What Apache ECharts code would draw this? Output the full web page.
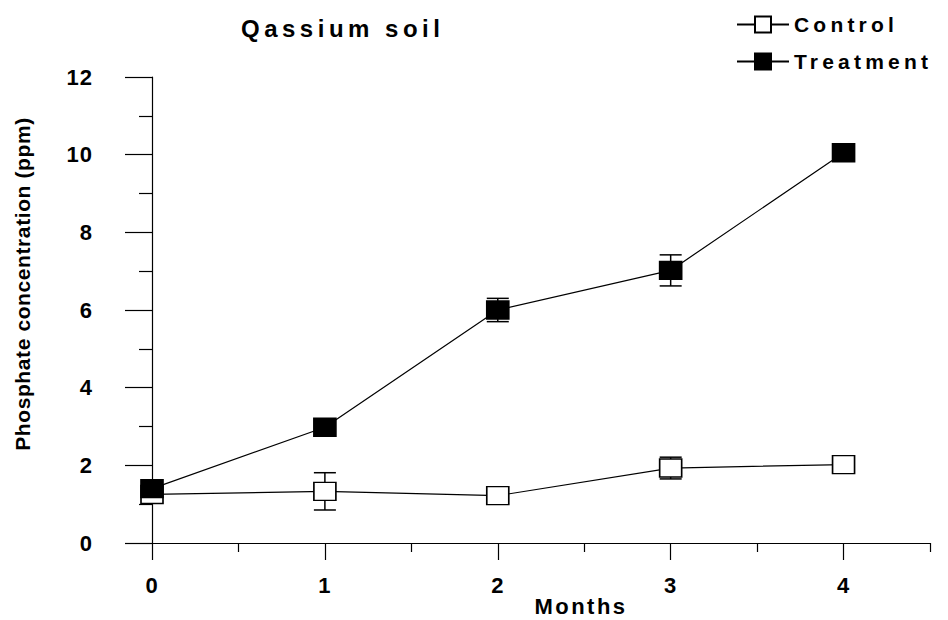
<!DOCTYPE html>
<html>
<head>
<meta charset="utf-8">
<script src="https://cdn.jsdelivr.net/npm/echarts@6/dist/echarts.min.js"></script>
<style>
html,body{margin:0;padding:0;background:#fff;}
#chart{width:948px;height:620px;}
</style>
</head>
<body>
<div id="chart"></div>
<script>
// ---- data ----
var titleText = 'Qassium soil';
var xName = 'Months';
var yName = 'Phosphate concentration (ppm)';
var months = [0, 1, 2, 3, 4];
var controlValues = [1.25, 1.33, 1.22, 1.93, 2.02];
var controlErr = [0, 0.48, 0, 0.28, 0];
var treatmentValues = [1.40, 2.98, 6.00, 7.02, 10.05];
var treatmentErr = [0, 0, 0.30, 0.40, 0];
var xMajorTicks = [0, 1, 2, 3, 4];
var xMinorTicks = [0.5, 1.5, 2.5, 3.5, 4.5];
var seriesNames = ['Control', 'Treatment'];

var FONT = "'Liberation Sans', Arial, Helvetica, sans-serif";

function pairs(xs, ys) { return xs.map(function (x, i) { return [x, ys[i]]; }); }
function errData(xs, ys, es) {
  var out = [];
  xs.forEach(function (x, i) { if (es[i] > 0) out.push([x, ys[i] - es[i], ys[i] + es[i]]); });
  return out;
}
function errRender(params, api) {
  var x = api.value(0), lo = api.value(1), hi = api.value(2);
  var pLo = api.coord([x, lo]), pHi = api.coord([x, hi]);
  var hw = 11;
  var st = { stroke: '#000', lineWidth: 1.5 };
  return {
    type: 'group',
    children: [
      { type: 'line', shape: { x1: pLo[0], y1: pLo[1], x2: pHi[0], y2: pHi[1] }, style: st },
      { type: 'line', shape: { x1: pLo[0] - hw, y1: pLo[1], x2: pLo[0] + hw, y2: pLo[1] }, style: st },
      { type: 'line', shape: { x1: pHi[0] - hw, y1: pHi[1], x2: pHi[0] + hw, y2: pHi[1] }, style: st }
    ]
  };
}

var chart = echarts.init(document.getElementById('chart'), null, { renderer: 'svg' });
var option = {
  animation: false,
  backgroundColor: '#fff',
  textStyle: { fontFamily: FONT },
  title: {
    text: titleText, left: 236, top: 11,
    textStyle: { fontFamily: FONT, fontWeight: 'bold', fontSize: 24, color: '#000' }
  },
  legend: {
    orient: 'vertical', left: 731, top: 9,
    itemWidth: 52, itemHeight: 20, itemGap: 16,
    data: seriesNames,
    textStyle: { fontFamily: FONT, fontWeight: 'bold', fontSize: 21, color: '#000', padding: [0, 0, 0, 0] }
  },
  grid: { left: 152, right: 18, top: 77, bottom: 77, containLabel: false, outerBoundsMode: 'none' },
  xAxis: [
    {
      type: 'value', min: 0, max: 4.5,
      name: xName, nameLocation: 'middle', nameGap: 52, nameMoveOverlap: false,
      nameTextStyle: { fontFamily: FONT, fontWeight: 'bold', fontSize: 22, color: '#000', padding: [0, 0, 0, 80] },
      axisLine: { show: true, onZero: false, lineStyle: { color: '#000', width: 1.2 } },
      axisTick: { show: true, length: 17, customValues: xMajorTicks, lineStyle: { color: '#000', width: 1.2 } },
      axisLabel: { show: true, customValues: xMajorTicks, margin: 31, fontFamily: FONT, fontWeight: 'bold', fontSize: 22, color: '#000' },
      splitLine: { show: false }
    },
    {
      type: 'value', min: 0, max: 4.5, position: 'bottom',
      axisLine: { show: false },
      axisTick: { show: true, length: 9, customValues: xMinorTicks, lineStyle: { color: '#000', width: 1.2 } },
      axisLabel: { show: false },
      splitLine: { show: false }
    }
  ],
  yAxis: {
    type: 'value', min: 0, max: 12, interval: 2,
    name: yName, nameLocation: 'middle', nameRotate: 90, nameGap: 119, nameMoveOverlap: false,
    nameTextStyle: { fontFamily: FONT, fontWeight: 'bold', fontSize: 21, color: '#000', padding: [0, 0, 0, 52] },
    axisLine: { show: true, onZero: false, lineStyle: { color: '#000', width: 1.2 } },
    axisTick: { show: true, length: 27, lineStyle: { color: '#000', width: 1.2 } },
    minorTick: { show: true, splitNumber: 2, length: 13, lineStyle: { color: '#000', width: 1.2 } },
    axisLabel: { margin: 59, fontFamily: FONT, fontWeight: 'bold', fontSize: 22, color: '#000' },
    splitLine: { show: false },
    minorSplitLine: { show: false }
  },
  series: [
    {
      type: 'custom', name: 'ControlErr', renderItem: errRender, z: 1,
      data: errData(months, controlValues, controlErr), silent: true
    },
    {
      type: 'custom', name: 'TreatmentErr', renderItem: errRender, z: 1,
      data: errData(months, treatmentValues, treatmentErr), silent: true
    },
    {
      type: 'line', name: seriesNames[0], data: pairs(months, controlValues), z: 3,
      symbol: 'rect', symbolSize: [22, 18],
      itemStyle: { color: '#fff', borderColor: '#000', borderWidth: 1.5 },
      lineStyle: { color: '#000', width: 1.2 }
    },
    {
      type: 'line', name: seriesNames[1], data: pairs(months, treatmentValues), z: 4,
      symbol: 'rect', symbolSize: [22, 18],
      itemStyle: { color: '#000', borderColor: '#000', borderWidth: 1.5 },
      lineStyle: { color: '#000', width: 1.2 }
    }
  ]
};
chart.setOption(option);

function applySpacing() {
  var texts = document.querySelectorAll('#chart text');
  texts.forEach(function (t) {
    var s = t.textContent;
    var ls = null;
    if (s === titleText) ls = 4.5;
    else if (seriesNames.indexOf(s) >= 0) ls = 4.2;
    else if (s === xName) ls = 2.5;
    else if (s === yName) ls = 0.6;
    else if (/^\d+$/.test(s)) ls = 1;
    if (ls !== null) t.style.letterSpacing = ls + 'px';
  });
}
chart.on('finished', applySpacing);
setTimeout(applySpacing, 50);
setTimeout(applySpacing, 300);
</script>
</body>
</html>
